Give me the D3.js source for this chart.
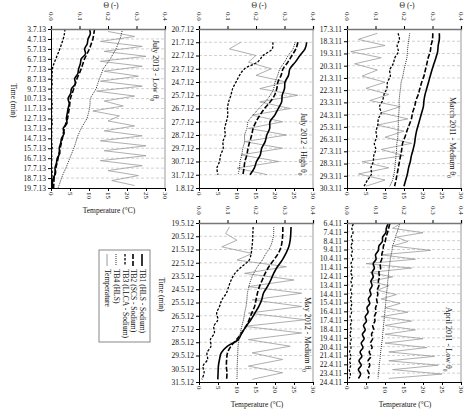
<!DOCTYPE html>
<html>
<head>
<meta charset="utf-8">
<script src="https://cdn.jsdelivr.net/npm/d3@7"></script>
<style>
body { margin: 0; background: #fff; }
text { font-family: "Liberation Serif", "Times New Roman", serif; fill: #111; }
</style>
</head>
<body>
<div id="chart"></div>
<script>
// ---- data (theta in -, temperature in degC, half-day steps) ----
const thetaTicks = [0, 0.1, 0.2, 0.3, 0.4];
const tempTicks = [0, 5, 10, 15, 20, 25, 30];
const legendNames = ["TB1 (HLS - Sodium)", "TB2 (SCS - Sodium)", "TB3 (LLCA - Sodium)", "TB4 (HLS)", "Temperature"];

// July 2013 - Low theta0
const jul13Dates = ["3.7.13","4.7.13","5.7.13","6.7.13","7.7.13","8.7.13","9.7.13","10.7.13","11.7.13","12.7.13","13.7.13","14.7.13","15.7.13","16.7.13","17.7.13","18.7.13","19.7.13"];
const jul13Start = 0;
const jul13TB1 = [.135,.138,.130,.127,.118,.121,.106,.103,.097,.094,.083,.086,.072,.069,.060,.064,.060,.057,.054,.056,.043,.046,.037,.034,.029,.031,.022,.019,.014,.016,.008,.005,.006];
const jul13TB2 = [.153,.150,.147,.141,.135,.126,.118,.112,.106,.099,.091,.085,.080,.074,.068,.066,.064,.061,.058,.052,.047,.043,.040,.036,.032,.028,.025,.021,.017,.014,.011,.010,.009];
const jul13TB3 = [.049,.047,.043,.037,.031,.024,.017,.010,.005,.004,.003,.004,.002,.003,.002,.004,.003,.002,.003,.004,.002,.003,.002,.003,.004,.002,.003,.002,.003,.004,.003,.002,.003];
const jul13TB4 = [.251,.247,.242,.235,.228,.218,.208,.196,.184,.177,.170,.164,.158,.148,.138,.137,.135,.131,.126,.116,.106,.098,.091,.086,.080,.073,.066,.059,.052,.044,.037,.031,.025];
const jul13TempStart = 0.25;
const jul13Temp = [15,22,13,24,14,25,13,24,14,23,13,24,12,22,14,19,11,18,15,22,14,24,13,25,14,25,13,24,15,23,16,22];

// July 2012 - High theta0
const jul12Dates = ["20.7.12","21.7.12","22.7.12","23.7.12","24.7.12","25.7.12","26.7.12","27.7.12","28.7.12","29.7.12","30.7.12","31.7.12","1.8.12"];
const jul12Start = 1;
const jul12TB1 = [.378,.372,.354,.338,.319,.314,.302,.300,.292,.290,.278,.266,.249,.248,.238,.232,.220,.215,.202,.194,.179];
const jul12TB2 = [.347,.340,.326,.312,.295,.288,.277,.273,.265,.250,.230,.214,.200,.190,.185,.178,.172,.168,.161,.158,.154];
const jul12TB3 = [.259,.257,.225,.205,.160,.142,.130,.118,.112,.104,.100,.101,.096,.090,.092,.084,.085,.076,.072,.063,.067];
const jul12TB4 = [.337,.330,.313,.300,.284,.276,.267,.262,.250,.232,.210,.190,.172,.168,.160,.160,.154,.150,.144,.142,.137];
const jul12TempStart = 1;
const jul12Temp = [11,8,15,13,19,15,23,16,26,16,24,14,22,13,23,12,22,11,21,10,18];

// March 2011 - Medium theta0
const mar11Dates = ["17.3.11","18.3.11","19.3.11","20.3.11","21.3.11","22.3.11","23.3.11","24.3.11","25.3.11","26.3.11","27.3.11","28.3.11","29.3.11","30.3.11"];
const mar11Start = 0.35;
const mar11TB1 = [.324,.324,.320,.318,.312,.305,.298,.292,.286,.280,.274,.270,.268,.262,.256,.250,.244,.240,.237,.232,.226,.222,.216,.212,.206,.200];
const mar11TB2 = [.301,.300,.295,.292,.285,.280,.275,.270,.262,.256,.250,.242,.237,.230,.226,.218,.210,.203,.195,.192,.188,.184,.180,.176,.172,.167];
const mar11TB3 = [.179,.184,.176,.180,.168,.162,.150,.152,.142,.140,.130,.125,.114,.120,.110,.108,.102,.104,.096,.101,.094,.092,.084,.086,.072,.060];
const mar11TB4 = [.220,.217,.214,.212,.210,.205,.200,.196,.190,.188,.185,.183,.183,.182,.180,.180,.179,.178,.175,.174,.172,.170,.168,.165,.160,.150];
const mar11TempStart = 0.35;
const mar11Temp = [8,3,10,1,9,2,8,4,10,5,11,6,14,9,16,8,15,10,17,9,15,4,11,3,10,5];

// May 2012 - Medium theta0
const may12Dates = ["19.5.12","20.5.12","21.5.12","22.5.12","23.5.12","24.5.12","25.5.12","26.5.12","27.5.12","28.5.12","29.5.12","30.5.12","31.5.12"];
const may12Start = 0.3;
const may12TB1 = [.323,.322,.320,.315,.305,.292,.275,.262,.252,.240,.226,.220,.210,.196,.182,.165,.150,.138,.100,.078,.072,.068,.067,.066];
const may12TB2 = [.294,.294,.292,.288,.278,.262,.245,.232,.222,.212,.205,.200,.195,.185,.176,.165,.150,.132,.112,.100,.097,.096,.098,.097];
const may12TB3 = [.190,.189,.188,.186,.183,.176,.150,.126,.113,.104,.096,.080,.072,.062,.066,.052,.054,.040,.042,.028,.030,.014,.018,.010];
const may12TB4 = [.262,.262,.258,.250,.235,.222,.205,.192,.182,.175,.170,.168,.165,.160,.156,.150,.145,.140,.137,.136,.135,.134,.134,.133];
const may12TempStart = 0.3;
const may12Temp = [8,7,10,6,14,10,23,12,25,13,27,14,27,13,28,12,27,13,24,14,22,13,22,14];

// April 2011 - Low theta0
const apr11Dates = ["6.4.11","7.4.11","8.4.11","9.4.11","10.4.11","11.4.11","12.4.11","13.4.11","14.4.11","15.4.11","16.4.11","17.4.11","18.4.11","19.4.11","20.4.11","21.4.11","22.4.11","23.4.11","24.4.11"];
const apr11Start = 0.1;
const apr11TB1 = [.144,.138,.136,.125,.124,.112,.110,.100,.102,.092,.096,.088,.092,.084,.088,.080,.084,.075,.080,.070,.074,.064,.068,.058,.064,.054,.060,.050,.056,.046,.052,.042,.050,.040,.048,.040];
const apr11TB2 = [.150,.146,.142,.137,.134,.128,.126,.122,.122,.116,.118,.112,.114,.110,.112,.106,.108,.104,.106,.100,.102,.096,.098,.090,.094,.086,.090,.082,.088,.078,.084,.074,.080,.072,.078,.074];
const apr11TB3 = [.022,.017,.021,.015,.020,.014,.019,.015,.020,.014,.018,.013,.019,.014,.018,.013,.017,.012,.017,.013,.016,.011,.016,.012,.015,.010,.015,.011,.014,.009,.014,.009,.013,.008,.012,.008];
const apr11TB4 = [.185,.180,.175,.170,.166,.160,.158,.155,.152,.150,.148,.146,.145,.143,.142,.140,.138,.137,.136,.134,.133,.131,.130,.128,.127,.125,.124,.122,.120,.118,.117,.115,.113,.112,.110,.109];
const apr11TempStart = 0.1;
const apr11Temp = [14,12,20,13,16,12,22,9,18,5,17,6,12,6,11,8,13,9,14,10,16,9,17,10,18,10,20,10,21,11,23,11,24,12,25,11];

// ---- layout ----
const W = 114, H = 159, STEP = 0.5;

const panels = [
  {x: 51,  y: 29,  dates: jul13Dates, start: jul13Start, tb: [jul13TB1, jul13TB2, jul13TB3, jul13TB4], tStart: jul13TempStart, temp: jul13Temp,
   title: "July 2013 - Low θ", tx: 104, ty: 11, theta: true, tlab: true, time: true},
  {x: 199, y: 29,  dates: jul12Dates, start: jul12Start, tb: [jul12TB1, jul12TB2, jul12TB3, jul12TB4], tStart: jul12TempStart, temp: jul12Temp,
   title: "July 2012 - High θ", tx: 104, ty: 84, theta: true, tlab: false, time: false},
  {x: 347, y: 29,  dates: mar11Dates, start: mar11Start, tb: [mar11TB1, mar11TB2, mar11TB3, mar11TB4], tStart: mar11TempStart, temp: mar11Temp,
   title: "March 2011 - Medium θ", tx: 105, ty: 68, theta: true, tlab: false, time: false},
  {x: 199, y: 223, dates: may12Dates, start: may12Start, tb: [may12TB1, may12TB2, may12TB3, may12TB4], tStart: may12TempStart, temp: may12Temp,
   title: "May 2012 - Medium θ", tx: 108, ty: 74, theta: false, tlab: true, time: true},
  {x: 347, y: 223, dates: apr11Dates, start: apr11Start, tb: [apr11TB1, apr11TB2, apr11TB3, apr11TB4], tStart: apr11TempStart, temp: apr11Temp,
   title: "April 2011 - Low θ", tx: 101, ty: 84, theta: false, tlab: true, time: false}
];

const styles = [
  {dash: null,      w: 1.6, c: "#000"},
  {dash: "5,2",     w: 1.6, c: "#000"},
  {dash: "2.5,1.5", w: 1.3, c: "#000"},
  {dash: "1,1",     w: 1.0, c: "#333"}
];
const tempColor = "#9a9a9a";

const svg = d3.select("#chart").append("svg")
  .attr("width", 464).attr("height", 416);

panels.forEach(function(p) {
  const g = svg.append("g").attr("transform", `translate(${p.x},${p.y})`);
  const n = p.dates.length - 1;
  const y = d3.scaleLinear().domain([0, n]).range([0, H]);
  const xTh = d3.scaleLinear().domain([0, 0.4]).range([0, W]);
  const xT = d3.scaleLinear().domain([0, 30]).range([0, W]);

  // dashed grid
  g.selectAll("line.grid").data(p.dates.slice(1, -1)).enter().append("line")
    .attr("x1", 0).attr("x2", W)
    .attr("y1", (d, i) => y(i + 1)).attr("y2", (d, i) => y(i + 1))
    .attr("stroke", "#bdbdbd").attr("stroke-width", 0.7).attr("stroke-dasharray", "3,2");

  // temperature
  g.append("path")
    .datum(p.temp)
    .attr("fill", "none").attr("stroke", tempColor).attr("stroke-width", 0.8)
    .attr("d", d3.line()
      .x(d => xT(d))
      .y((d, i) => y(p.tStart + i * STEP)));

  // water content series
  p.tb.forEach(function(s, k) {
    const st = styles[k];
    g.append("path")
      .datum(s)
      .attr("fill", "none").attr("stroke", st.c).attr("stroke-width", st.w)
      .attr("stroke-dasharray", st.dash)
      .attr("d", d3.line()
        .curve(d3.curveCatmullRom)
        .x(d => xTh(d))
        .y((d, i) => y(p.start + i * STEP)));
  });

  // frame right
  g.append("line").attr("x1", W).attr("x2", W).attr("y1", 0).attr("y2", H)
    .attr("stroke", "#999").attr("stroke-width", 1);

  // left axis with dates
  const ay = g.append("g")
    .call(d3.axisLeft(y).tickValues(d3.range(n + 1)).tickFormat(i => p.dates[i]).tickSize(3).tickPadding(2));
  ay.selectAll("text").style("font-size", "7.5px").style("font-family", "Liberation Serif, serif");
  ay.select(".domain").attr("stroke", "#000");

  // top axis (theta)
  const at = g.append("g")
    .call(d3.axisTop(xTh).tickValues(thetaTicks).tickFormat("").tickSize(3));
  at.select(".domain").attr("stroke", "#777").attr("stroke-width", 1.4);
  g.selectAll("text.th").data(thetaTicks).enter().append("text")
    .attr("transform", d => `translate(${xTh(d)},-17) rotate(90)`)
    .attr("dominant-baseline", "central")
    .style("font-size", "7px")
    .text(d3.format(".1f"));

  // bottom axis (temperature)
  const ab = g.append("g").attr("transform", `translate(0,${H})`)
    .call(d3.axisBottom(xT).tickValues(tempTicks).tickFormat("").tickSize(3));
  ab.select(".domain").attr("stroke", "#000");
  g.selectAll("text.tt").data(tempTicks).enter().append("text")
    .attr("transform", d => `translate(${xT(d)},${H + 4}) rotate(90)`)
    .attr("dominant-baseline", "central")
    .style("font-size", "7px")
    .text(d => d);

  // panel title (rotated)
  const tt = g.append("text")
    .attr("transform", `translate(${p.tx},${p.ty}) rotate(90)`)
    .attr("dominant-baseline", "central")
    .style("font-size", "8px")
    .text(p.title);
  tt.append("tspan").attr("baseline-shift", "sub").style("font-size", "5.5px").text("0");

  if (p.theta) {
    g.append("text").attr("x", W / 2 + 3).attr("y", -21)
      .attr("text-anchor", "middle").style("font-size", "7.5px").text("Θ (-)");
  }
  if (p.tlab) {
    g.append("text").attr("x", W / 2 + 1).attr("y", H + 25)
      .attr("text-anchor", "middle").style("font-size", "7.5px").text("Temperature (°C)");
  }
  if (p.time) {
    g.append("text")
      .attr("transform", `translate(-38,${H / 2 - 8}) rotate(90)`)
      .attr("text-anchor", "middle").attr("dominant-baseline", "central")
      .style("font-size", "7.5px").text("Time (min)");
  }
});

// legend
const lg = svg.append("g");
lg.append("rect").attr("x", 99).attr("y", 250).attr("width", 51).attr("height", 92)
  .attr("fill", "#fff").attr("stroke", "#888").attr("stroke-width", 1);
const legendX = [142, 133, 125, 116, 107];
legendNames.forEach(function(name, k) {
  const st = k < 4 ? styles[k] : {dash: null, w: 1, c: tempColor};
  lg.append("line")
    .attr("x1", legendX[k]).attr("x2", legendX[k]).attr("y1", 254).attr("y2", 266)
    .attr("stroke", st.c).attr("stroke-width", st.w).attr("stroke-dasharray", st.dash);
  lg.append("text")
    .attr("transform", `translate(${legendX[k]},269) rotate(90)`)
    .attr("dominant-baseline", "central")
    .style("font-size", "7.5px")
    .text(name);
});
</script>
</body>
</html>
